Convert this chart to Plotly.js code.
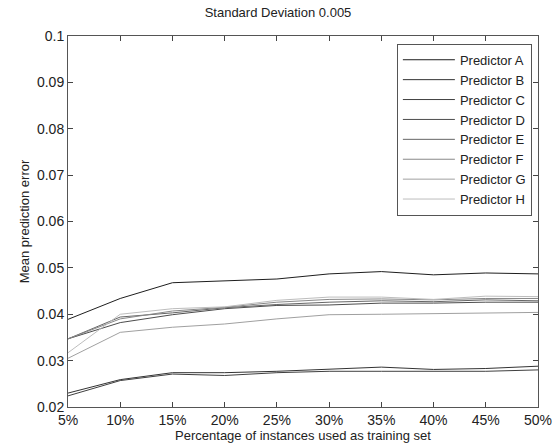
<!DOCTYPE html>
<html>
<head>
<meta charset="utf-8">
<script src="https://cdn.plot.ly/plotly-3.0.1.min.js"></script>
<style>html,body{margin:0;padding:0;background:#fff;}#chart{width:556px;height:447px;}</style>
</head>
<body>
<div id="chart"></div>
<script>
const xValues = [5, 10, 15, 20, 25, 30, 35, 40, 45, 50];
const xTickLabels = ['5%', '10%', '15%', '20%', '25%', '30%', '35%', '40%', '45%', '50%'];
const seriesNames = ['Predictor A', 'Predictor B', 'Predictor C', 'Predictor D', 'Predictor E', 'Predictor F', 'Predictor G', 'Predictor H'];
const predictorA = [0.0389, 0.0434, 0.0468, 0.0472, 0.0476, 0.0487, 0.0492, 0.0485, 0.0489, 0.0487];
const predictorB = [0.0230, 0.0259, 0.0274, 0.0274, 0.0277, 0.0281, 0.0286, 0.0281, 0.0283, 0.0288];
const predictorC = [0.0224, 0.0257, 0.0271, 0.0268, 0.0274, 0.0277, 0.0277, 0.0277, 0.0277, 0.0280];
const predictorD = [0.0347, 0.0382, 0.0399, 0.0412, 0.0419, 0.0420, 0.0424, 0.0424, 0.0426, 0.0426];
const predictorE = [0.0347, 0.0394, 0.0403, 0.0414, 0.0421, 0.0426, 0.0429, 0.0427, 0.0431, 0.0429];
const predictorF = [0.0347, 0.0390, 0.0407, 0.0415, 0.0426, 0.0432, 0.0433, 0.0431, 0.0434, 0.0434];
const predictorG = [0.0305, 0.0361, 0.0372, 0.0379, 0.0390, 0.0399, 0.0400, 0.0401, 0.0403, 0.0404];
const predictorH = [0.0317, 0.0400, 0.0412, 0.0416, 0.0430, 0.0437, 0.0437, 0.0432, 0.0439, 0.0438];
const yTickValues = [0.02, 0.03, 0.04, 0.05, 0.06, 0.07, 0.08, 0.09, 0.1];
const yTickLabels = ['0.02', '0.03', '0.04', '0.05', '0.06', '0.07', '0.08', '0.09', '0.1'];

const allSeries = [predictorA, predictorB, predictorC, predictorD, predictorE, predictorF, predictorG, predictorH];
const colors = ['#1e1e1e', '#333333', '#3f3f3f', '#4c4c4c', '#666666', '#888888', '#a0a0a0', '#bdbdbd'];

const traces = allSeries.map((ys, i) => ({
  x: xValues, y: ys, name: seriesNames[i], type: 'scatter', mode: 'lines',
  line: {color: colors[i], width: 1}
}));

const fontFam = 'Liberation Sans, Arial, sans-serif';
const layout = {
  width: 556, height: 447,
  margin: {l: 68, r: 18, t: 36, b: 40},
  paper_bgcolor: '#fff', plot_bgcolor: '#fff',
  font: {family: fontFam, size: 14, color: '#222'},
  title: {text: 'Standard Deviation 0.005', font: {family: fontFam, size: 13, color: '#222'}, x: 0.5, xanchor: 'center', y: 0.972, yanchor: 'middle'},
  showlegend: true,
  legend: {x: 0.987, xanchor: 'right', y: 0.979, yanchor: 'top', bgcolor: '#fff', bordercolor: '#555', borderwidth: 1,
    font: {family: fontFam, size: 13, color: '#222'}, tracegroupgap: 0, itemwidth: 52},
  xaxis: {
    range: [5, 50], tickvals: xValues, ticktext: xTickLabels,
    ticks: 'inside', ticklen: 5, tickcolor: '#444', showgrid: false, zeroline: false,
    showline: true, mirror: 'ticks', linecolor: '#555', linewidth: 1,
    tickfont: {family: fontFam, size: 14, color: '#222'},
    title: {text: 'Percentage of instances used as training set', font: {family: fontFam, size: 13, color: '#222'}, standoff: 1}
  },
  yaxis: {
    range: [0.02, 0.1], tickvals: yTickValues, ticktext: yTickLabels,
    ticks: 'inside', ticklen: 5, tickcolor: '#444', showgrid: false, zeroline: false,
    showline: true, mirror: 'ticks', linecolor: '#555', linewidth: 1,
    tickfont: {family: fontFam, size: 14, color: '#222'},
    title: {text: 'Mean prediction error', font: {family: fontFam, size: 13, color: '#222'}, standoff: 4}
  }
};

Plotly.newPlot('chart', traces, layout, {displayModeBar: false, staticPlot: true});
</script>
</body>
</html>
